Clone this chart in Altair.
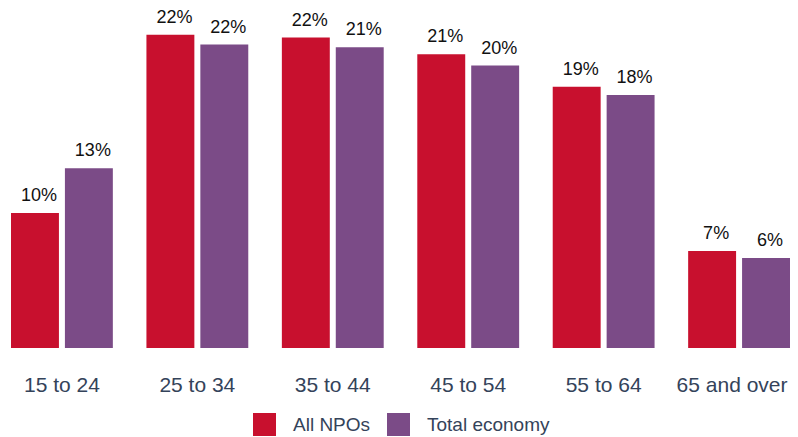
import altair as alt
import pandas as pd

ages = ["15 to 24", "25 to 34", "35 to 44", "45 to 54", "55 to 64", "65 and over"]
series = ["All NPOs", "Total economy"]
npo = [9.6, 22.3, 22.1, 20.9, 18.6, 6.9]
total = [12.8, 21.6, 21.4, 20.1, 18.0, 6.4]
colors = ["#c8102e", "#7b4b87"]

rows = []
for a, v in zip(ages, npo):
    rows.append({"age": a, "series": series[0], "value": v, "label": f"{round(v)}%"})
for a, v in zip(ages, total):
    rows.append({"age": a, "series": series[1], "value": v, "label": f"{round(v)}%"})
df = pd.DataFrame(rows)

last_label = alt.datum.value == ages[-1]
x = alt.X("age:N", sort=ages, title=None,
          scale=alt.Scale(paddingInner=0.248, paddingOuter=0, round=False),
          axis=alt.Axis(labelAngle=0, domain=False, ticks=False, labelPadding=26,
                        labelFontSize=21, labelColor="#34435a", labelFont="Liberation Sans",
                        labelFontWeight="normal", labelBound=False, labelOverlap=False,
                        labelOffset=alt.condition(last_label, alt.value(-7), alt.value(0))))
xo = alt.XOffset("series:N", sort=series,
                 scale=alt.Scale(paddingInner=0.111, paddingOuter=0, round=False))
y = alt.Y("value:Q", scale=alt.Scale(domain=[0, 24.2]), axis=None)

bars = alt.Chart(df).mark_bar().encode(
    x=x, xOffset=xo, y=y,
    color=alt.Color("series:N", sort=series, scale=alt.Scale(domain=series, range=colors),
                    legend=alt.Legend(title=None, orient="none", direction="horizontal",
                                      legendX=242, legendY=405, symbolType="square",
                                      symbolSize=529, symbolStrokeWidth=0, labelFontSize=19,
                                      labelColor="#34435a", labelFont="Liberation Sans",
                                      labelOffset=17, columnPadding=16, padding=0))
)
text = alt.Chart(df).mark_text(baseline="alphabetic", dy=-12, dx=4, fontSize=18,
                               font="Liberation Sans", color="#111111").encode(
    x=x, xOffset=xo, y=y, text="label:N"
)

chart = (bars + text).properties(
    width=779, height=340,
    padding={"left": 3, "top": 0, "right": 0, "bottom": 90},
    autosize=alt.AutoSizeParams(type="none"),
).configure_view(stroke=None)
chart.save("out.html", embed_options={"renderer": "svg", "actions": False})
